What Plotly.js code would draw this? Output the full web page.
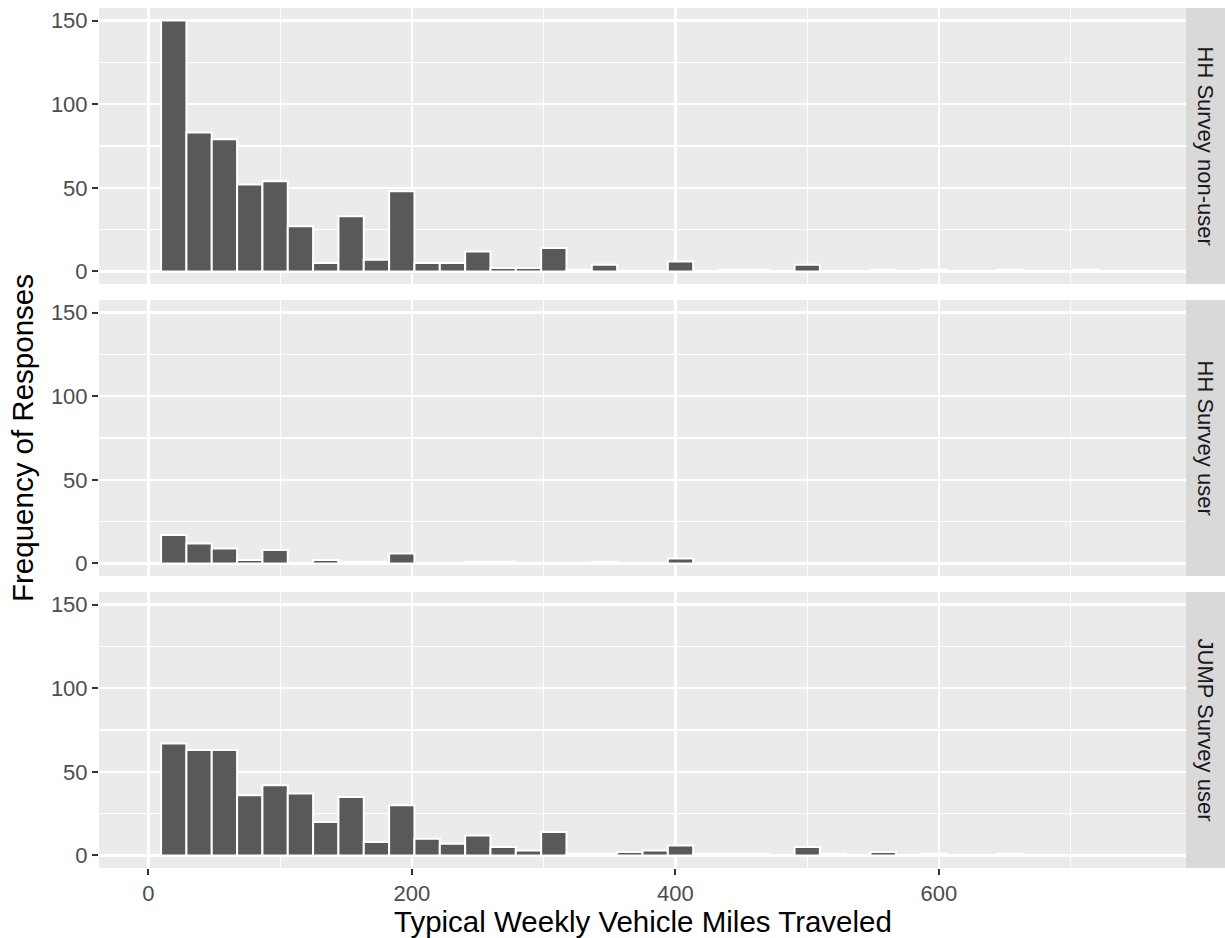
<!DOCTYPE html>
<html>
<head>
<meta charset="utf-8">
<script src="https://cdn.plot.ly/plotly-3.0.1.min.js"></script>
<style>
html,body{margin:0;padding:0;background:#ffffff;}
#chart{width:1225px;height:938px;}
</style>
</head>
<body>
<div id="chart"></div>
<script>
// ---- data ----
const facetLabels = ["HH Survey non-user", "HH Survey user", "JUMP Survey user"];
const binWidth = 750 / 39;            // histogram bin width (miles)
const binNumbers = [1,2,3,4,5,6,7,8,9,10,11,12,13,14,15,16,17,18,19,20,21,22,23,24,25,26,27,28,29,30,31,32,33,34,35,36,37,38];
const countsNonUser = [150,83,79,52,54,27,5,33,7,48,5,5,12,2,2,14,1,4,0,0,6,0,1,1,0,4,0,0,1,0,1,0,0,1,0,0,1,0];
const countsUser    = [17,12,9,2,8,0,2,1,1,6,0,0,1,1,0,0,0,1,0,0,3,0,0,0,0,0,0,0,0,0,0,0,0,0,0,0,0,0];
const countsJump    = [67,63,63,36,42,37,20,35,8,30,10,7,12,5,3,14,1,1,2,3,6,1,1,1,0,5,1,0,2,0,1,0,0,1,0,0,0,0];
const xTickVals = [0, 200, 400, 600];
const yTickVals = [0, 50, 100, 150];
const xTitle = "Typical Weekly Vehicle Miles Traveled";
const yTitle = "Frequency of Responses";

// ---- layout geometry ----
const W = 1225, H = 938;
const M = {l: 99, r: 39, t: 8, b: 70};
const plotW = W - M.l - M.r, plotH = H - M.t - M.b;
const panelH = 276 / plotH, gap = 16 / plotH;
const domains = [
  [1 - panelH, 1],
  [1 - 2 * panelH - gap, 1 - panelH - gap],
  [0, panelH]
];

const binCenters = binNumbers.map(k => k * binWidth);
const seriesList = [countsNonUser, countsUser, countsJump];

const traces = seriesList.map((vals, i) => ({
  type: 'bar',
  x: binCenters,
  y: vals,
  width: binWidth,
  xaxis: i === 0 ? 'x' : 'x' + (i + 1),
  yaxis: i === 0 ? 'y' : 'y' + (i + 1),
  marker: {color: '#595959', line: {color: '#FFFFFF', width: 2}},
  hoverinfo: 'x+y',
  showlegend: false
}));

const font = 'Liberation Sans, Arial, Helvetica, sans-serif';
const tickFont = {family: font, size: 22, color: '#4D4D4D'};

function xAxis(i) {
  const bottom = i === 2;
  return {
    domain: [0, 1],
    anchor: i === 0 ? 'y' : 'y' + (i + 1),
    range: [-37.5, 787.5],
    tickmode: 'array',
    tickvals: xTickVals,
    ticktext: xTickVals.map(String),
    showticklabels: bottom,
    ticks: bottom ? 'outside' : '',
    ticklen: 6, tickwidth: 2, tickcolor: '#333333',
    tickfont: tickFont,
    showgrid: true, gridcolor: '#FFFFFF', gridwidth: 2.2,
    minor: {dtick: 100, tick0: 0, showgrid: true, gridcolor: '#FFFFFF', gridwidth: 1.1, ticks: ''},
    zeroline: false, showline: false, fixedrange: true
  };
}
function yAxis(i) {
  return {
    domain: domains[i],
    anchor: i === 0 ? 'x' : 'x' + (i + 1),
    range: [-7.5, 157.5],
    tickmode: 'array',
    tickvals: yTickVals,
    ticktext: yTickVals.map(String),
    ticks: 'outside',
    ticklen: 6, tickwidth: 2, tickcolor: '#333333',
    tickfont: tickFont,
    showgrid: true, gridcolor: '#FFFFFF', gridwidth: 2.2,
    minor: {dtick: 25, tick0: 0, showgrid: true, gridcolor: '#FFFFFF', gridwidth: 1.1, ticks: ''},
    zeroline: false, showline: false, fixedrange: true
  };
}

const layout = {
  width: W, height: H,
  margin: M,
  paper_bgcolor: '#FFFFFF',
  plot_bgcolor: '#EBEBEB',
  bargap: 0,
  font: {family: font},
  xaxis: xAxis(0), xaxis2: xAxis(1), xaxis3: xAxis(2),
  yaxis: yAxis(0), yaxis2: yAxis(1), yaxis3: yAxis(2),
  shapes: domains.map(d => ({
    type: 'rect', xref: 'paper', yref: 'paper',
    x0: 1, x1: 1 + 39 / plotW, y0: d[0], y1: d[1],
    fillcolor: '#D9D9D9', line: {width: 0}, layer: 'below'
  })),
  annotations: facetLabels.map((t, i) => ({
    text: t, xref: 'paper', yref: 'paper',
    x: 1 + 19.5 / plotW, y: (domains[i][0] + domains[i][1]) / 2,
    xanchor: 'center', yanchor: 'middle', textangle: 90, showarrow: false,
    font: {family: font, size: 22, color: '#1A1A1A'}
  })).concat([
    {text: xTitle, xref: 'paper', yref: 'paper', x: 0.5, y: -(921 - (H - M.b)) / plotH,
     xanchor: 'center', yanchor: 'middle', showarrow: false,
     font: {family: font, size: 29.5, color: '#000000'}},
    {text: yTitle, xref: 'paper', yref: 'paper', x: (22 - M.l) / plotW, y: 0.5,
     xanchor: 'center', yanchor: 'middle', textangle: -90, showarrow: false,
     font: {family: font, size: 29.5, color: '#000000'}}
  ])
};

Plotly.newPlot('chart', traces, layout, {displayModeBar: false, staticPlot: true});
</script>
</body>
</html>
